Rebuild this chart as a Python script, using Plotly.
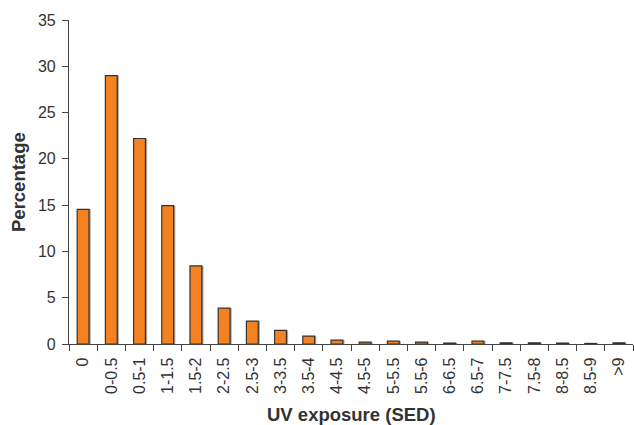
import plotly.graph_objects as go

categories = ["0", "0-0.5", "0.5-1", "1-1.5", "1.5-2", "2-2.5", "2.5-3", "3-3.5",
              "3.5-4", "4-4.5", "4.5-5", "5-5.5", "5.5-6", "6-6.5", "6.5-7",
              "7-7.5", "7.5-8", "8-8.5", "8.5-9", ">9"]
percentages = [14.55, 29.0, 22.2, 14.95, 8.43, 3.87, 2.48, 1.48,
               0.85, 0.42, 0.2, 0.3, 0.2, 0.1, 0.3,
               0.13, 0.13, 0.1, 0.06, 0.13]
y_ticks = [0, 5, 10, 15, 20, 25, 30, 35]

font_family = "Liberation Sans, Arial, Helvetica, sans-serif"

L, R, T, B, W, H = 69, 1, 20, 81, 634, 425
pw, ph = W - L - R, H - T - B

fig = go.Figure()
# subtle shadow
fig.add_trace(go.Bar(
    x=categories, y=percentages, width=0.42, offset=-0.15,
    marker=dict(color="rgba(140,140,140,0.8)", line=dict(width=0)),
    hoverinfo="skip", showlegend=False,
))
fig.add_trace(go.Bar(
    x=categories, y=percentages, width=0.42, offset=-0.21,
    marker=dict(color="#F58220", line=dict(color="#333333", width=1.2)),
    showlegend=False,
))

fig.update_layout(
    width=W, height=H,
    margin=dict(l=L, r=R, t=T, b=B, autoexpand=False),
    barmode="overlay",
    plot_bgcolor="white", paper_bgcolor="white",
    font=dict(family=font_family, size=16, color="#333333"),
    xaxis=dict(
        type="category", tickson="boundaries", ticks="outside", ticklen=6,
        tickcolor="#444444", showline=True, linecolor="#444444", linewidth=1.2,
        showgrid=False, tickangle=-90, tickfont=dict(size=16), automargin=False,
        ticklabelstandoff=6,
        range=[-0.5, len(categories) - 0.5],
    ),
    yaxis=dict(
        range=[0, 35], tickvals=y_ticks, ticks="outside", ticklen=6,
        tickcolor="#444444", showline=True, linecolor="#444444", linewidth=1.2,
        showgrid=False, zeroline=False, tickfont=dict(size=16), automargin=False,
        ticklabelstandoff=3,
    ),
    annotations=[
        dict(text="<b>UV exposure (SED)</b>", xref="paper", yref="paper",
             x=0.5, y=(T + ph - 414) / ph, xanchor="center", yanchor="middle",
             showarrow=False, font=dict(size=18.5, color="#333333")),
        dict(text="<b>Percentage</b>", xref="paper", yref="paper",
             x=(18 - L) / pw, y=0.5, xanchor="center", yanchor="middle",
             textangle=-90, showarrow=False, font=dict(size=18.5, color="#333333")),
    ],
)

fig.write_html("out.html", config={"displayModeBar": False},
               post_script="document.body.style.margin='0';document.body.style.overflow='hidden';")
